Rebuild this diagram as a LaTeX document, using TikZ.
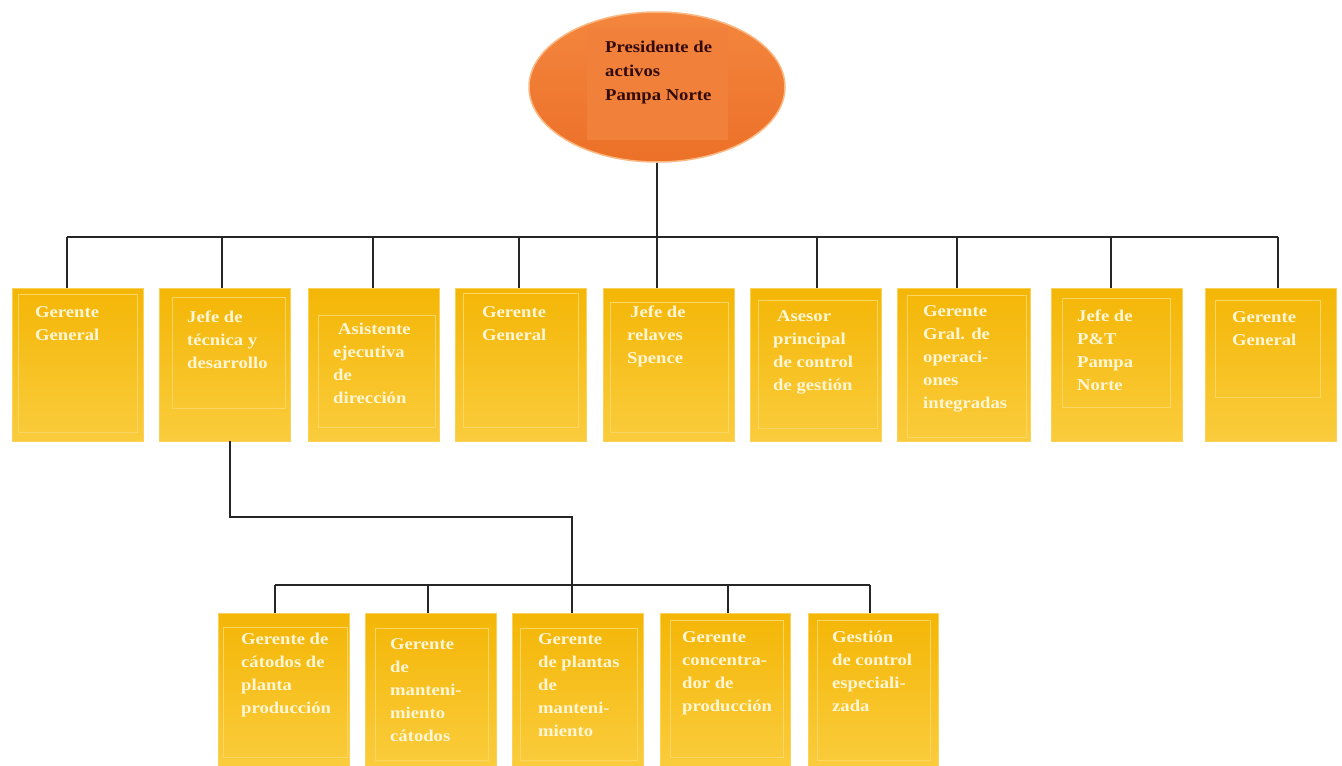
\documentclass[tikz,border=0pt]{standalone}
\usepackage{fontspec}
\setmainfont[FakeStretch=1.13]{Liberation Serif}
\usetikzlibrary{shapes.geometric}
\definecolor{goldT}{RGB}{244,182,6}
\definecolor{goldM}{RGB}{255,196,0}
\definecolor{goldB}{RGB}{250,204,60}
\definecolor{goldEdge}{RGB}{250,210,90}
\definecolor{goldInner}{RGB}{252,214,100}
\definecolor{creamTxt}{RGB}{255,246,214}
\definecolor{orT}{RGB}{244,134,62}
\definecolor{orB}{RGB}{236,112,40}
\definecolor{orEdge}{RGB}{250,185,130}
\definecolor{orInner}{RGB}{240,128,58}
\definecolor{darkTxt}{RGB}{50,10,10}
\begin{document}
\begin{tikzpicture}[x=1pt,y=-1pt,
  box/.style={rectangle,minimum width=131pt,minimum height=153pt,inner sep=0pt,
    draw=goldEdge,line width=0.8pt,top color=goldT,middle color=goldM,bottom color=goldB},
  innerbox/.style={draw=goldInner,line width=0.6pt},
  lbl/.style={anchor=north west,inner sep=0pt,align=left,text=creamTxt,
    font=\bfseries\fontsize{16.5}{23}\selectfont},
  conn/.style={draw=black!85,line width=1.3pt}
]
\useasboundingbox (0,0) rectangle (1342,766);
\fill[white] (0,0) rectangle (1342,766);

% president
\node[ellipse,minimum width=256pt,minimum height=150pt,draw=orEdge,line width=1.5pt,
  top color=orT,bottom color=orB] (pres) at (657,87) {};
\fill[orInner] (587,28) rectangle (728,140);
\node[anchor=north west,inner sep=0pt,align=left,text=darkTxt,
  font=\bfseries\fontsize{16.5}{24}\selectfont] (tp) at (605,41)
  {Presidente de\\activos\\Pampa Norte};

% top row boxes
\node[box] (a1) at (77.5,364.5) {};
\node[box] (a2) at (224.5,364.5) {};
\node[box] (a3) at (373.5,364.5) {};
\node[box] (a4) at (520.5,364.5) {};
\node[box] (a5) at (668.5,364.5) {};
\node[box] (a6) at (815.5,364.5) {};
\node[box,minimum width=133pt] (a7) at (963.5,364.5) {};
\node[box] (a8) at (1116.5,364.5) {};
\node[box] (a9) at (1270.5,364.5) {};

\draw[innerbox] (18,294) rectangle (137,432);
\draw[innerbox] (172,297) rectangle (285,408);
\draw[innerbox] (318,315) rectangle (435,427);
\draw[innerbox] (463,293) rectangle (578,427);
\draw[innerbox] (610,302) rectangle (728,432);
\draw[innerbox] (758,300) rectangle (877,428);
\draw[innerbox] (907,295) rectangle (1026,437);
\draw[innerbox] (1062,298) rectangle (1170,407);
\draw[innerbox] (1215,300) rectangle (1320,397);

\node[lbl] (ta1) at (35,306) {Gerente\\General};
\node[lbl] (ta2) at (187,311) {Jefe de\\técnica y\\desarrollo};
\node[lbl] (ta3) at (333,323) {\hspace*{5pt}Asistente\\ejecutiva\\de\\dirección};
\node[lbl] (ta4) at (482,306) {Gerente\\General};
\node[lbl] (ta5) at (627,306) {\hspace*{3pt}Jefe de\\relaves\\Spence};
\node[lbl] (ta6) at (773,310) {\hspace*{4pt}Asesor\\principal\\de control\\de gestión};
\node[lbl] (ta7) at (923,305) {Gerente\\Gral. de\\operaci-\\ones\\integradas};
\node[lbl] (ta8) at (1077,310) {Jefe de\\P\&T\\Pampa\\Norte};
\node[lbl] (ta9) at (1232,311) {Gerente\\General};

% bottom row boxes
\node[box] (c1) at (283.5,689.5) {};
\node[box] (c2) at (430.5,689.5) {};
\node[box] (c3) at (577.5,689.5) {};
\node[box,minimum width=130pt] (c4) at (725,689.5) {};
\node[box,minimum width=130pt] (c5) at (873,689.5) {};

\draw[innerbox] (223,627) rectangle (347,757);
\draw[innerbox] (375,628) rectangle (488,760);
\draw[innerbox] (520,628) rectangle (637,760);
\draw[innerbox] (670,620) rectangle (783,757);
\draw[innerbox] (817,620) rectangle (930,760);

\node[lbl] (tc1) at (241,633) {Gerente de\\cátodos de\\planta\\producción};
\node[lbl] (tc2) at (390,638) {Gerente\\de\\manteni-\\miento\\cátodos};
\node[lbl] (tc3) at (538,633) {Gerente\\de plantas\\de\\manteni-\\miento};
\node[lbl] (tc4) at (682,631) {Gerente\\concentra-\\dor de\\producción};
\node[lbl] (tc5) at (832,631) {Gestión\\de control\\especiali-\\zada};

% connectors top level
\coordinate (bus) at (657,237);
\coordinate (d1) at (67,237);
\coordinate (d2) at (222,237);
\coordinate (d3) at (373,237);
\coordinate (d4) at (519,237);
\coordinate (d6) at (817,237);
\coordinate (d7) at (957,237);
\coordinate (d8) at (1111,237);
\coordinate (d9) at (1278,237);
\draw[conn] (pres.south) -- (bus);
\draw[conn] (d1) -- (d9);
\draw[conn] (d1) -- (a1.north -| d1);
\draw[conn] (d2) -- (a2.north -| d2);
\draw[conn] (d3) -- (a3.north -| d3);
\draw[conn] (d4) -- (a4.north -| d4);
\draw[conn] (bus) -- (a5.north -| bus);
\draw[conn] (d6) -- (a6.north -| d6);
\draw[conn] (d7) -- (a7.north -| d7);
\draw[conn] (d8) -- (a8.north -| d8);
\draw[conn] (d9) -- (a9.north -| d9);

% connectors second level
\coordinate (s0) at (230,517);
\coordinate (s1) at (572,517);
\coordinate (bus2) at (572,585);
\coordinate (e1) at (275,585);
\coordinate (e2) at (428,585);
\coordinate (e4) at (728,585);
\coordinate (e5) at (870,585);
\draw[conn] (a2.south -| s0) -- (s0) -- (s1) -- (bus2);
\draw[conn] (e1) -- (e5);
\draw[conn] (e1) -- (c1.north -| e1);
\draw[conn] (e2) -- (c2.north -| e2);
\draw[conn] (bus2) -- (c3.north -| bus2);
\draw[conn] (e4) -- (c4.north -| e4);
\draw[conn] (e5) -- (c5.north -| e5);
\end{tikzpicture}
\end{document}
